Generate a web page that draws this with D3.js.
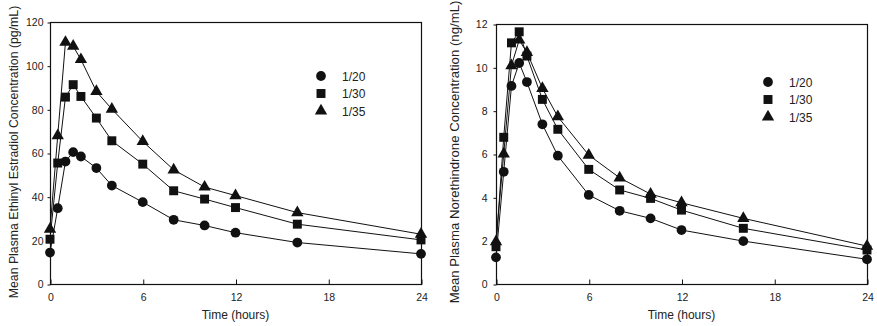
<!DOCTYPE html>
<html>
<head>
<meta charset="utf-8">
<script src="https://cdn.jsdelivr.net/npm/d3@7"></script>
<style>
body { margin: 0; background: #fff; }
svg { display: block; }
text { font-family: "Liberation Sans", Arial, sans-serif; fill: #222; }
</style>
</head>
<body>
<svg id="chart" width="877" height="326"></svg>
<script>
// ---- data ----
const times = [0, 0.5, 1, 1.5, 2, 3, 4, 6, 8, 10, 12, 16, 24];
const seriesNames = ["1/20", "1/30", "1/35"];
const xTicks = [0, 6, 12, 18, 24];

// Ethinyl estradiol (pg/mL)
const ee_120 = [14.4, 34.7, 56.1, 60.4, 58.4, 53.1, 45.1, 37.5, 29.4, 26.8, 23.5, 19.0, 13.8];
const ee_130 = [20.5, 55.4, 85.6, 91.3, 85.9, 76.0, 65.6, 54.9, 42.7, 38.9, 35.0, 27.4, 20.2];
const ee_135 = [25.1, 67.9, 110.7, 108.9, 102.8, 88.2, 80.1, 65.3, 52.3, 44.4, 40.5, 32.7, 22.8];
const eeTicks = [0, 20, 40, 60, 80, 100, 120];

// Norethindrone (ng/mL)
const ne_120 = [1.23, 5.18, 9.14, 10.2, 9.32, 7.37, 5.92, 4.11, 3.38, 3.03, 2.49, 1.98, 1.14];
const ne_130 = [1.72, 6.77, 11.13, 11.64, 10.52, 8.52, 7.14, 5.29, 4.34, 3.95, 3.41, 2.57, 1.57];
const ne_135 = [1.95, 6.0, 10.08, 11.26, 10.69, 9.03, 7.72, 5.95, 4.9, 4.15, 3.75, 3.03, 1.75];
const neTicks = [0, 2, 4, 6, 8, 10, 12];

const svg = d3.select("#chart");
const symbols = [d3.symbolCircle, d3.symbolSquare, d3.symbolTriangle];
const symSizes = [75, 80, 66];

function drawPanel(cfg) {
  const x = d3.scaleLinear().domain([0, 24]).range([cfg.x0, cfg.x1]);
  const y = d3.scaleLinear().domain([0, cfg.yMax]).range([cfg.y0, cfg.y1]);
  const g = svg.append("g");

  // frame
  g.append("rect")
    .attr("x", cfg.x0 + 0.5).attr("y", cfg.y1 + 0.5)
    .attr("width", cfg.x1 - cfg.x0).attr("height", cfg.y0 - cfg.y1)
    .attr("fill", "none").attr("stroke", "#111").attr("stroke-width", 1.2);

  // x axis (inward ticks)
  const xa = g.append("g").attr("transform", `translate(0.5,${cfg.y0 + 0.5})`)
    .call(d3.axisBottom(x).tickValues(xTicks).tickSizeInner(-5).tickSizeOuter(0).tickPadding(9));
  xa.select(".domain").remove();
  xa.selectAll("line").attr("stroke", "#111");
  xa.selectAll("text").attr("font-size", 10.5).attr("fill", "#333")
    .style("font-family", '"Liberation Sans", Arial, sans-serif');

  // y axis (outward ticks)
  const ya = g.append("g").attr("transform", `translate(${cfg.x0 + 0.5},0.5)`)
    .call(d3.axisLeft(y).tickValues(cfg.yTicks).tickSizeInner(3).tickSizeOuter(0).tickPadding(cfg.yPad));
  ya.select(".domain").remove();
  ya.selectAll("line").attr("stroke", "#111");
  ya.selectAll("text").attr("font-size", 10.5).attr("fill", "#333")
    .style("font-family", '"Liberation Sans", Arial, sans-serif');

  // lines + markers
  const line = d3.line().x((d, i) => x(times[i])).y(d => y(d));
  cfg.series.forEach((vals, si) => {
    g.append("path").datum(vals).attr("d", line)
      .attr("fill", "none").attr("stroke", "#111").attr("stroke-width", 1);
  });
  cfg.series.forEach((vals, si) => {
    g.selectAll(null).data(vals).enter().append("path")
      .attr("d", d3.symbol().type(symbols[si]).size(symSizes[si]))
      .attr("transform", (d, i) => `translate(${x(times[i])},${y(d)})`)
      .attr("fill", "#111");
  });

  // legend
  const lg = g.append("g").attr("transform", `translate(${cfg.legX},${cfg.legY})`);
  seriesNames.forEach((name, i) => {
    lg.append("path").attr("d", d3.symbol().type(symbols[i]).size(symSizes[i]))
      .attr("transform", `translate(0,${i * 17.5})`).attr("fill", "#111");
    lg.append("text").attr("x", 21).attr("y", i * 17.5 + 4.5)
      .attr("font-size", 12).text(name);
  });

  // axis titles
  g.append("text").attr("x", (cfg.x0 + cfg.x1) / 2).attr("y", 319)
    .attr("text-anchor", "middle").attr("font-size", 12).text("Time (hours)");
  g.append("text")
    .attr("transform", `translate(${cfg.yLabX},${cfg.yLabY}) rotate(-90)`)
    .attr("text-anchor", "middle").attr("font-size", cfg.yLabSize).text(cfg.yLabel);
}

drawPanel({
  x0: 50, x1: 421, y0: 284, y1: 22, yMax: 120, yTicks: eeTicks, yPad: 4,
  series: [ee_120, ee_130, ee_135],
  legX: 321, legY: 76,
  yLabX: 18, yLabY: 152, yLabSize: 12.3,
  yLabel: "Mean Plasma Ethinyl Estradiol Concentration (pg/mL)"
});

drawPanel({
  x0: 496, x1: 867, y0: 284, y1: 24, yMax: 12, yTicks: neTicks, yPad: 6,
  series: [ne_120, ne_130, ne_135],
  legX: 768, legY: 82,
  yLabX: 459, yLabY: 152, yLabSize: 13.2,
  yLabel: "Mean Plasma Norethindrone Concentration (ng/mL)"
});
</script>
</body>
</html>
